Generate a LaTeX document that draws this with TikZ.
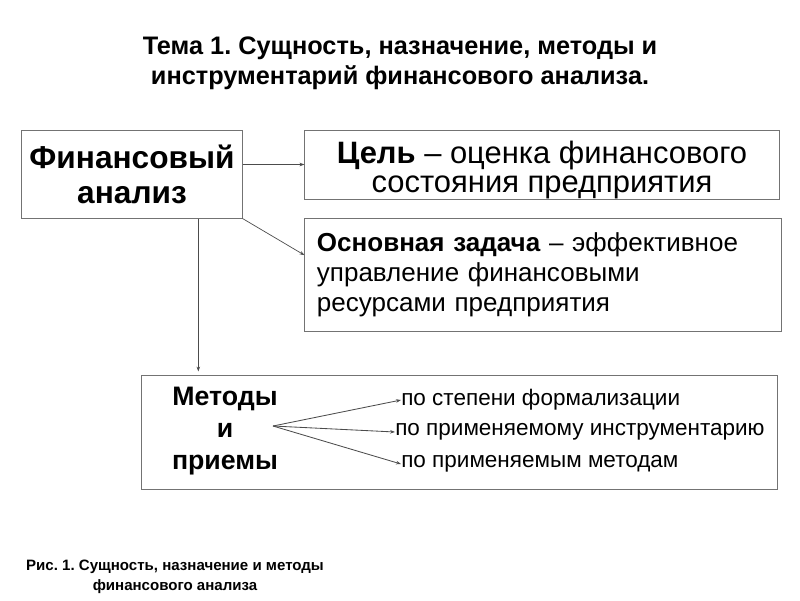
\documentclass[tikz,border=0pt]{standalone}
\usepackage{fontspec}
\setmainfont{Liberation Sans}
\usetikzlibrary{arrows.meta,calc}
\frenchspacing

\tikzset{
  box/.style={draw=black!55, line width=0.7pt, inner sep=0pt},
  arr/.style={draw=black!70, line width=0.5pt, -{Stealth[length=3.5pt,width=2.5pt]}},
  fan/.style={draw=black!70, line width=0.6pt, -{Stealth[length=3.5pt,width=2.5pt]}},
  lbl/.style={anchor=west, inner sep=0pt, font=\fontsize{16}{18}\selectfont}
}

\begin{document}
\begin{tikzpicture}[x=0.025cm,y=-0.025cm]
\useasboundingbox (0,0) rectangle (800,600);
% title
\node[align=center, font=\bfseries\fontsize{18}{21.5}\selectfont] (title) at (400,63)
  {Тема 1. Сущность, назначение, методы и\\инструментарий финансового анализа.};
% boxes
\node[box, minimum width=5.5cm, minimum height=2.2cm, align=center,
  font=\bfseries\fontsize{22.5}{25}\selectfont] (fin) at (132,174) {Финансовый\\анализ};
\node[box, minimum width=11.85cm, minimum height=1.725cm] (goal) at (542,164.5) {};
\node[align=center, inner sep=0pt, font=\fontsize{22}{20}\selectfont] (goaltext) at (542,170)
  {\textbf{Цель} – оценка финансового\\состояния предприятия};
\node[box, text width=11.3cm, inner xsep=0.3cm, minimum height=2.825cm, align=left,
  font=\fontsize{18.5}{21.5}\selectfont] (task) at (543,274.5)
  {\textbf{Основная задача} – эффективное\\управление финансовыми\\ресурсами предприятия};
\node[box, minimum width=15.875cm, minimum height=2.85cm] (meth) at (459.5,432) {};
% inside the methods box
\node[align=center, inner sep=0pt, font=\bfseries\fontsize{19}{22.5}\selectfont] (mtext) at (225,431)
  {Методы\\и\\приемы};
\coordinate (fork) at (273,426);
\node[lbl] (m1) at (401,400) {по степени формализации};
\node[lbl] (m2) at (395,432) {по применяемому инструментарию};
\node[lbl] (m3) at (401,464) {по применяемым методам};
\draw[fan] (fork) -- (m1.west);
\draw[fan] (fork) -- (m2.west);
\draw[fan] (fork) -- (m3.west);
% connectors
\draw[arr] (fin.east |- goal.west) -- (goal.west);
\draw[arr] (fin.south east) -- ($(task.north west)!0.33!(task.south west)$);
\coordinate (down) at ($(fin.south west)!0.8!(fin.south east)$);
\draw[arr] (down) -- ($(down |- meth.north)+(0,-3)$);
% caption
\node[align=center, font=\bfseries\fontsize{10.7}{14}\selectfont] (cap) at (175,577)
  {Рис. 1. Сущность, назначение и методы\\финансового анализа};
\end{tikzpicture}
\end{document}
